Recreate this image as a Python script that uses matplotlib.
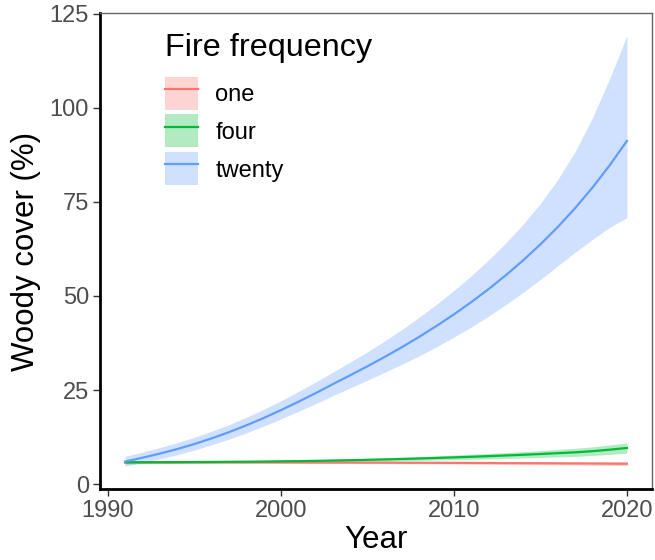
import numpy as np
import matplotlib.pyplot as plt
from matplotlib.patches import Patch
from matplotlib.lines import Line2D

plt.rcParams['font.family'] = ['Liberation Sans', 'DejaVu Sans']

# fitted woody cover (%) per year with confidence band, by fire frequency
years = list(range(1991, 2021))

one_fit = [5.80, 5.80, 5.80, 5.79, 5.79, 5.78, 5.78, 5.77, 5.77, 5.76,
           5.75, 5.74, 5.73, 5.72, 5.71, 5.70, 5.68, 5.67, 5.66, 5.64,
           5.62, 5.60, 5.58, 5.56, 5.54, 5.52, 5.50, 5.47, 5.44, 5.41]
one_lo = [5.45, 5.47, 5.49, 5.50, 5.51, 5.52, 5.52, 5.52, 5.52, 5.52,
          5.51, 5.50, 5.49, 5.47, 5.45, 5.43, 5.40, 5.38, 5.35, 5.32,
          5.29, 5.26, 5.22, 5.18, 5.14, 5.10, 5.06, 5.01, 4.96, 4.91]
one_hi = [6.15, 6.13, 6.11, 6.08, 6.07, 6.04, 6.04, 6.02, 6.02, 6.00,
          5.99, 5.98, 5.97, 5.97, 5.97, 5.97, 5.96, 5.96, 5.97, 5.96,
          5.95, 5.94, 5.94, 5.94, 5.94, 5.94, 5.94, 5.93, 5.92, 5.91]

four_fit = [5.80, 5.81, 5.82, 5.84, 5.86, 5.89, 5.92, 5.96, 6.00, 6.05,
            6.11, 6.18, 6.26, 6.35, 6.45, 6.56, 6.68, 6.81, 6.95, 7.10,
            7.26, 7.43, 7.61, 7.80, 8.00, 8.22, 8.45, 8.75, 9.15, 9.60]
four_lo = [5.35, 5.40, 5.45, 5.50, 5.55, 5.60, 5.64, 5.68, 5.72, 5.76,
           5.81, 5.86, 5.92, 5.99, 6.06, 6.13, 6.21, 6.30, 6.39, 6.49,
           6.60, 6.71, 6.83, 6.96, 7.09, 7.23, 7.38, 7.60, 7.90, 8.25]
four_hi = [6.25, 6.22, 6.19, 6.18, 6.17, 6.18, 6.20, 6.24, 6.28, 6.34,
           6.41, 6.50, 6.60, 6.71, 6.84, 6.99, 7.15, 7.32, 7.51, 7.71,
           7.92, 8.15, 8.39, 8.64, 8.91, 9.21, 9.52, 9.90, 10.40, 10.95]

twenty_fit = [6.00, 7.00, 8.10, 9.30, 10.65, 12.15, 13.80, 15.60, 17.55, 19.65,
              21.85, 24.15, 26.55, 28.90, 31.30, 33.80, 36.40, 39.15, 42.05, 45.10,
              48.35, 51.80, 55.50, 59.45, 63.70, 68.30, 73.30, 78.75, 84.70, 91.20]
twenty_lo = [4.80, 5.70, 6.70, 7.80, 9.05, 10.45, 11.95, 13.60, 15.40, 17.30,
             19.30, 21.35, 23.50, 25.55, 27.60, 29.70, 31.85, 34.10, 36.50, 39.05,
             41.75, 44.60, 47.70, 50.95, 54.40, 58.00, 61.60, 65.00, 68.20, 70.80]
twenty_hi = [7.40, 8.50, 9.70, 11.00, 12.45, 14.05, 15.80, 17.75, 19.85, 22.15,
             24.55, 27.10, 29.75, 32.40, 35.15, 38.05, 41.10, 44.35, 47.80, 51.45,
             55.35, 59.55, 64.10, 69.05, 74.60, 80.90, 88.30, 97.25, 107.70, 119.20]

labels = ['one', 'four', 'twenty']
colors = ['#F8766D', '#00BA38', '#619CFF']
fits = [one_fit, four_fit, twenty_fit]
lows = [one_lo, four_lo, twenty_lo]
highs = [one_hi, four_hi, twenty_hi]

fig = plt.figure(figsize=(6.55, 5.6), dpi=100)
ax = fig.add_axes([100 / 655, 1 - 489 / 560, 552 / 655, 476 / 560])

for lo, hi, c in zip(lows, highs, colors):
    ax.fill_between(years, lo, hi, color=c, alpha=0.3, linewidth=0)
for fit, c in zip(fits, colors):
    ax.plot(years, fit, color=c, linewidth=1.6)

ax.set_xlim(1989.55, 2021.45)
ax.set_ylim(-1.3, 125.2)
ax.set_xticks([1990, 2000, 2010, 2020])
ax.set_yticks([0, 25, 50, 75, 100, 125])

ax.tick_params(axis='both', labelsize=17, labelcolor='#4d4d4d', length=5,
               width=1, color='#333333', pad=3)
for side in ['left', 'bottom']:
    ax.spines[side].set_linewidth(2)
    ax.spines[side].set_color('black')
for side in ['top', 'right']:
    ax.spines[side].set_linewidth(1)
    ax.spines[side].set_color('#666666')

ax.set_xlabel('Year', fontsize=22.5, labelpad=2)
ax.set_ylabel('Woody cover (%)', fontsize=22.5, labelpad=6)

handles = [(Patch(facecolor=c, alpha=0.3, linewidth=0),
            Line2D([], [], color=c, linewidth=1.6)) for c in colors]
leg = ax.legend(handles, labels, title='Fire frequency', loc='upper left',
                bbox_to_anchor=(0.1, 0.977), frameon=False, fontsize=17,
                title_fontsize=23.3, handlelength=1.4, handleheight=1.77,
                handletextpad=0.75, labelspacing=0.21, alignment='left',
                borderaxespad=0)
# more room between the legend title and the keys
leg._legend_box.sep = 9.5

fig.savefig('out.png', dpi=100)
